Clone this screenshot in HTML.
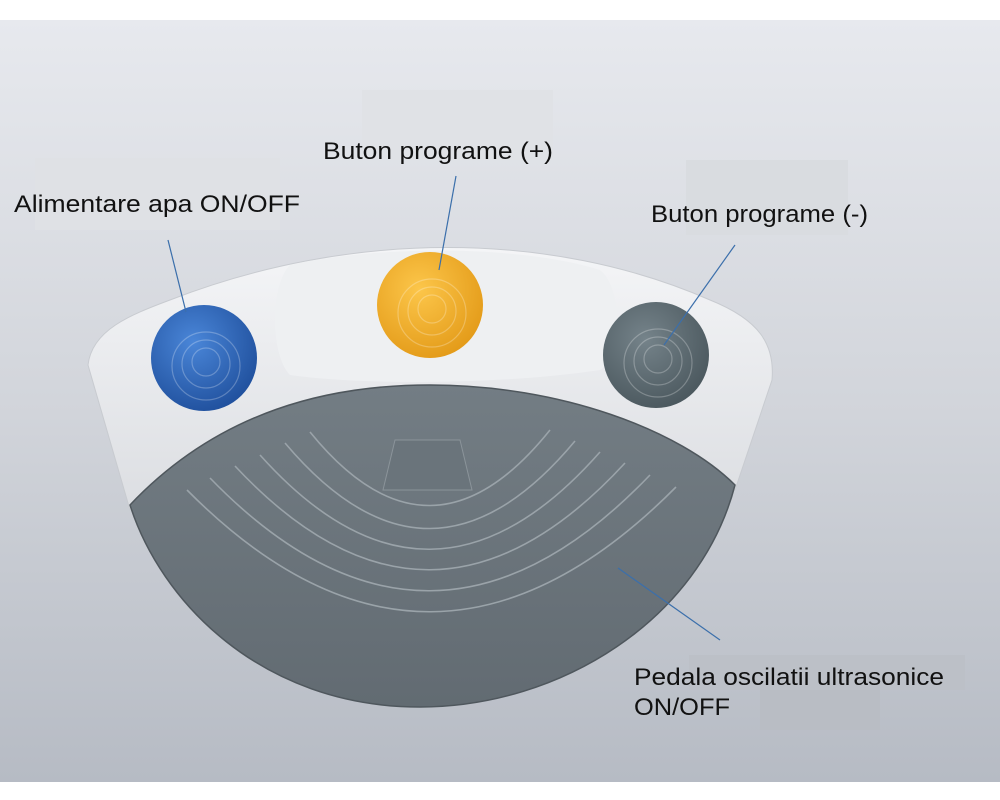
<!DOCTYPE html>
<html><head><meta charset="utf-8"><style>
html,body{margin:0;padding:0;background:#fff;}
svg{display:block;}
text{font-family:"Liberation Sans",Arial,sans-serif;font-size:24px;fill:#111;}
</style></head><body>
<svg width="1000" height="800" viewBox="0 0 1000 800" xmlns="http://www.w3.org/2000/svg">
<defs>
<linearGradient id="bg" x1="0" y1="0" x2="0" y2="1">
<stop offset="0" stop-color="#e7e9ee"/><stop offset="0.5" stop-color="#d2d5db"/><stop offset="1" stop-color="#b6bbc4"/>
</linearGradient>
<linearGradient id="house" x1="0" y1="0" x2="0" y2="1">
<stop offset="0" stop-color="#f4f5f7"/><stop offset="1" stop-color="#dcdee2"/>
</linearGradient>
<radialGradient id="blue" cx="0.4" cy="0.35" r="0.7"><stop offset="0" stop-color="#4a86d8"/><stop offset="1" stop-color="#1f4f9c"/></radialGradient>
<radialGradient id="yel" cx="0.4" cy="0.35" r="0.7"><stop offset="0" stop-color="#fcc64a"/><stop offset="1" stop-color="#e39a18"/></radialGradient>
<radialGradient id="gry" cx="0.4" cy="0.35" r="0.7"><stop offset="0" stop-color="#75838a"/><stop offset="1" stop-color="#4a575d"/></radialGradient>
<linearGradient id="ped" x1="0" y1="0" x2="0" y2="1"><stop offset="0" stop-color="#737d84"/><stop offset="1" stop-color="#626b72"/></linearGradient>
</defs>
<rect x="0" y="20" width="1000" height="762" fill="url(#bg)"/>
<rect x="35" y="158" width="245" height="72" fill="#dfe1e5"/>
<rect x="362" y="90" width="191" height="70" fill="#e0e2e6"/>
<rect x="686" y="160" width="162" height="75" fill="#d9dce0"/>
<rect x="689" y="655" width="276" height="35" fill="#bcc0c7"/>
<rect x="760" y="690" width="120" height="40" fill="#b9bdc4"/>
<path d="M88,365 C92,330 130,315 170,300 C350,230 550,230 710,300 C760,320 775,345 772,380 L735,490 L130,510 Z" fill="url(#house)" stroke="#c8cbd0" stroke-width="1"/>
<path d="M290,265 C380,245 520,245 600,270 C625,290 620,360 600,370 C500,385 360,385 290,375 C270,355 270,285 290,265 Z" fill="#eef0f2"/>
<circle cx="204" cy="358" r="53" fill="url(#blue)"/>
<circle cx="430" cy="305" r="53" fill="url(#yel)"/>
<circle cx="656" cy="355" r="53" fill="url(#gry)"/>
<g fill="none" stroke="rgba(255,255,255,0.25)" stroke-width="1.2">
<circle cx="206" cy="362" r="14"/><circle cx="206" cy="364" r="24"/><circle cx="206" cy="366" r="34"/>
<circle cx="432" cy="309" r="14"/><circle cx="432" cy="311" r="24"/><circle cx="432" cy="313" r="34"/>
<circle cx="658" cy="359" r="14"/><circle cx="658" cy="361" r="24"/><circle cx="658" cy="363" r="34"/>
</g>
<path d="M130,505 C220,410 330,385 430,385 C560,385 680,430 735,485 C700,620 560,707 420,707 C260,707 160,600 130,505 Z" fill="url(#ped)" stroke="#4f575d" stroke-width="1.5"/>
<g fill="none" stroke="#9aa3a9" stroke-width="1.6">
<path d="M310,432 Q430,580 550,430"/>
<path d="M285,443 Q430,615 575,441"/>
<path d="M260,455 Q430,645 600,452"/>
<path d="M235,466 Q430,675 625,463"/>
<path d="M210,478 Q430,705 650,475"/>
<path d="M187,490 Q430,735 676,487"/>
</g>
<path d="M395,440 L460,440 L472,490 L383,490 Z" fill="#6a747b" stroke="#8b949a"/>
<g stroke="#3b6fab" stroke-width="1.2">
<line x1="168" y1="240" x2="186" y2="312"/>
<line x1="456" y1="176" x2="439" y2="270"/>
<line x1="735" y1="245" x2="664" y2="345"/>
<line x1="618" y1="568" x2="720" y2="640"/>
</g>
<text x="14" y="212" textLength="286" lengthAdjust="spacingAndGlyphs">Alimentare apa ON/OFF</text>
<text x="323" y="159" textLength="230" lengthAdjust="spacingAndGlyphs">Buton programe (+)</text>
<text x="651" y="222" textLength="217" lengthAdjust="spacingAndGlyphs">Buton programe (-)</text>
<text x="634" y="685" textLength="310" lengthAdjust="spacingAndGlyphs">Pedala oscilatii ultrasonice</text>
<text x="634" y="715" textLength="96" lengthAdjust="spacingAndGlyphs">ON/OFF</text>
</svg>
</body></html>
